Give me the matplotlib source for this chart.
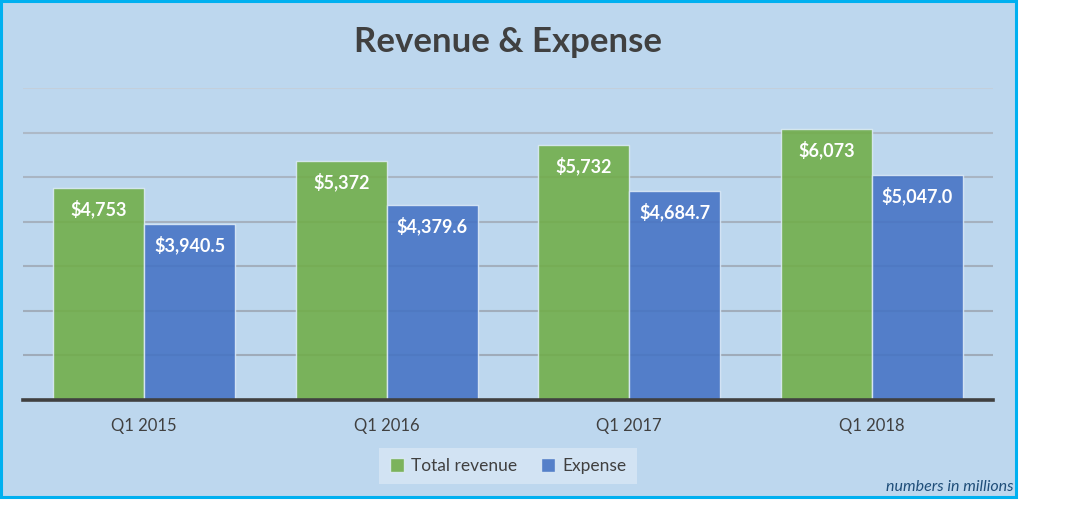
import matplotlib
matplotlib.use("Agg")
import matplotlib.pyplot as plt
from matplotlib.patches import Rectangle
import numpy as np

categories = ["Q1 2015", "Q1 2016", "Q1 2017", "Q1 2018"]
revenue = [4753, 5372, 5732, 6073]
expense = [3940.5, 4379.6, 4684.7, 5047.0]
revenue_labels = ["$4,753", "$5,372", "$5,732", "$6,073"]
expense_labels = ["$3,940.5", "$4,379.6", "$4,684.7", "$5,047.0"]
series_names = ["Total revenue", "Expense"]

plt.rcParams['font.family'] = ['Lato', 'DejaVu Sans']

W, H = 1088, 511
fig = plt.figure(figsize=(W/100, H/100), dpi=100)
fig.patch.set_facecolor('white')

bg = '#BDD7EE'
# chart area background with border
fig.patches.append(Rectangle((1/W, 1 - 497/H), 1015/W, 496/H, transform=fig.transFigure,
                             facecolor=bg, edgecolor='#00B0F0', linewidth=2.2, zorder=-5))

ax = fig.add_axes([23/W, 1 - 400/H, 970/W, 312/H])
ax.set_facecolor('none')
x = np.arange(len(categories))
bw = 0.375
green = '#70AD47'
blue = '#4472C4'
b1 = ax.bar(x - bw/2, revenue, bw, color=green, alpha=0.88, edgecolor='#DDEBF7', linewidth=1.0, zorder=3, label=series_names[0])
b2 = ax.bar(x + bw/2, expense, bw, color=blue, alpha=0.88, edgecolor='#DDEBF7', linewidth=1.0, zorder=3, label=series_names[1])

ax.set_xlim(-0.5, 3.5)
ax.set_ylim(0, 7000)
grid_colors = ['#C3CFDB', '#ADB9C7', '#A9B5C3', '#A5B1BF', '#A3AFBD', '#A1ADBB', '#9FABB9']
for i, yv in enumerate(range(7000, 0, -1000)):
    ax.axhline(yv, color=grid_colors[i], linewidth=1.5, zorder=1)
ax.axhline(0, color='#404040', linewidth=2.6, zorder=4, clip_on=False)

for s in ax.spines.values():
    s.set_visible(False)
ax.set_yticks([])
ax.set_xticks(x)
ax.set_xticklabels(categories, fontsize=12, color='#404040')
ax.tick_params(axis='x', length=0, pad=13)

for rects, labs in ((b1, revenue_labels), (b2, expense_labels)):
    for r, lab in zip(rects, labs):
        ax.annotate(lab, (r.get_x() + r.get_width()/2, r.get_height()), xytext=(0, -21),
                    textcoords='offset pixels', ha='center', va='center', color='white',
                    fontsize=13, fontweight='bold', zorder=5)

fig.text(508/W, 1 - 42/H, "Revenue & Expense", ha='center', va='center', fontsize=25,
         fontweight='bold', color='#404040')

leg = fig.legend(handles=[b1, b2], labels=series_names, loc='center', bbox_to_anchor=(508/W, 1 - 466/H),
                 ncol=2, frameon=True, fontsize=12.5, handlelength=0.8, handleheight=0.8,
                 handletextpad=0.4, columnspacing=1.4, borderpad=0.6, labelcolor='#404040')
leg.get_frame().set_facecolor('#D2E3F3')
leg.get_frame().set_edgecolor('none')
leg.get_frame().set_alpha(1)
leg.get_frame().set_boxstyle('square', pad=0)

fig.text(1013/W, 1 - 487/H, "numbers in millions", ha='right', va='center', fontsize=11.5,
         style='italic', color='#1F4E79')

fig.savefig('out.png', dpi=100, facecolor='white')
